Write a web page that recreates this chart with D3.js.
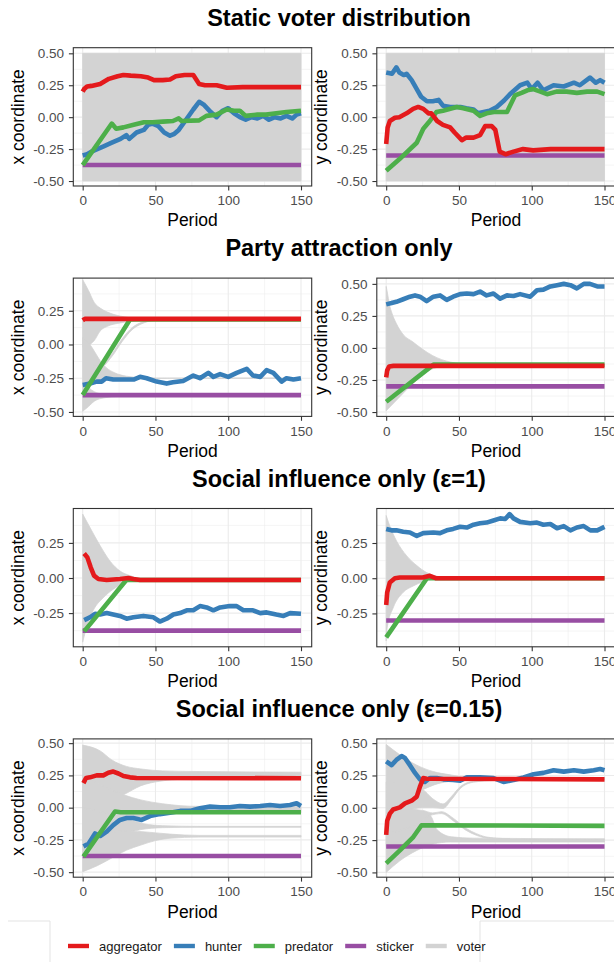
<!DOCTYPE html>
<html>
<head>
<meta charset="utf-8">
<script src="https://cdn.jsdelivr.net/npm/d3@7"></script>
<style>
body { margin: 0; background: #fff; }
svg { display: block; }
text { font-family: "Liberation Sans", Arial, sans-serif; }
</style>
</head>
<body>
<svg id="chart" width="614" height="962"></svg>
<script>
// ---- data: [period, value] ----
var agents = ["aggregator", "hunter", "predator", "sticker", "voter"];
var rowTitles = ["Static voter distribution", "Party attraction only",
                 "Social influence only (\u03b5=1)", "Social influence only (\u03b5=0.15)"];
var xTicks = [0, 50, 100, 150];
var yTicks = [-0.5, -0.25, 0, 0.25, 0.5];
var stickerX = -0.375;
var stickerY = -0.30;

// static voter distribution
var staticX_aggregator = [[0,0.20],[1,0.22],[3,0.24],[6,0.245],[12,0.26],[18,0.30],[24,0.32],[28,0.33],[33,0.325],[40,0.32],[45,0.31],[49,0.29],[55,0.29],[60,0.295],[64,0.32],[70,0.33],[76,0.33],[80,0.26],[84,0.25],[92,0.25],[99,0.23],[110,0.235],[130,0.235],[150,0.235]];
var staticX_hunter = [[0,-0.30],[3,-0.29],[6,-0.27],[10,-0.25],[14,-0.23],[20,-0.2],[26,-0.17],[30,-0.14],[32,-0.17],[37,-0.12],[42,-0.10],[45,-0.06],[48,-0.05],[52,-0.07],[56,-0.12],[60,-0.145],[63,-0.13],[66,-0.10],[71,-0.02],[76,0.06],[80,0.12],[83,0.10],[88,0.04],[92,0.0],[96,0.05],[100,0.07],[104,0.03],[108,0.0],[112,-0.02],[116,0.0],[120,-0.01],[124,0.01],[128,-0.02],[132,0.0],[136,-0.01],[140,0.01],[144,-0.01],[147,0.02],[150,0.03]];
var staticX_predator = [[0,-0.375],[20,-0.05],[23,-0.09],[28,-0.08],[35,-0.06],[42,-0.04],[48,-0.04],[55,-0.035],[62,-0.03],[66,-0.01],[68,-0.03],[80,-0.025],[85,0.01],[92,0.02],[99,0.06],[104,0.05],[108,0.05],[112,0.01],[120,0.02],[126,0.02],[133,0.03],[140,0.04],[150,0.05]];
var staticX_voter = [{upper:[[0,0.5],[150,0.5]], lower:[[0,-0.5],[150,-0.5]]}];

var staticY_aggregator = [[0,-0.21],[1,-0.08],[2.5,-0.03],[6,-0.005],[9,0.0],[14,0.03],[18.5,0.065],[22,0.08],[25.5,0.065],[29,0.03],[31,0.03],[35,-0.03],[39,-0.06],[44,-0.08],[47,-0.12],[52,-0.18],[55,-0.16],[60,-0.16],[64.5,-0.14],[68,-0.07],[72.5,-0.07],[75,-0.10],[78,-0.27],[82,-0.29],[87.5,-0.27],[94,-0.25],[101,-0.26],[113,-0.25],[124,-0.25],[136,-0.25],[150,-0.25]];
var staticY_hunter = [[0,0.35],[4,0.34],[7,0.39],[9,0.35],[12,0.33],[14,0.34],[17.5,0.29],[21,0.22],[24,0.16],[28,0.125],[32,0.125],[36,0.135],[39,0.09],[44,0.08],[51,0.08],[55,0.07],[60,0.06],[63,0.03],[67,0.04],[71,0.05],[76,0.08],[81,0.13],[85,0.18],[92,0.25],[97,0.27],[100,0.22],[104,0.27],[108,0.21],[115,0.25],[122,0.24],[129,0.27],[133,0.25],[140,0.31],[144,0.27],[147,0.29],[150,0.27]];
var staticY_predator = [[0,-0.42],[9,-0.33],[21,-0.2],[25.5,-0.09],[30,-0.03],[34.5,0.04],[39,0.05],[48.5,0.08],[53,0.07],[60,0.05],[64.5,0.01],[69,0.03],[74,0.04],[83,0.04],[88.5,0.17],[93,0.19],[97,0.21],[101,0.22],[106,0.20],[110.5,0.18],[117,0.20],[124,0.20],[131,0.19],[138,0.20],[145,0.20],[150,0.18]];
var staticY_voter = [{upper:[[0,0.5],[150,0.5]], lower:[[0,-0.5],[150,-0.5]]}];

// party attraction only
var partyX_aggregator = [[0,0.18],[1.5,0.19],[150,0.19]];
var partyX_hunter = [[0,-0.30],[5,-0.29],[9.6,-0.275],[13,-0.275],[16,-0.25],[21,-0.26],[28,-0.26],[35,-0.26],[39.4,-0.24],[44,-0.25],[50.8,-0.275],[57.7,-0.29],[62,-0.28],[69,-0.27],[76,-0.23],[80.6,-0.25],[86.3,-0.21],[89.8,-0.24],[94.4,-0.22],[100,-0.24],[105.8,-0.21],[112.7,-0.18],[117,-0.23],[122,-0.24],[126.4,-0.19],[131,-0.21],[136.7,-0.275],[140,-0.25],[144.8,-0.26],[150,-0.25]];
var partyX_predator = [[0,-0.375],[32.5,0.185],[150,0.185]];
var partyX_voter = [
  {upper:[[0,0.48],[4,0.40],[8,0.31],[12,0.27],[17,0.24],[26,0.21],[35,0.196],[50,0.19],[150,0.19]],
   lower:[[0,-0.02],[5,0.0],[8,0.03],[12,0.10],[17,0.135],[26,0.16],[35,0.175],[50,0.185],[150,0.185]]},
  {upper:[[0,0.05],[5,0.0],[8,-0.05],[12,-0.12],[16,-0.17],[22,-0.21],[30,-0.235],[40,-0.245],[60,-0.25],[150,-0.25]],
   lower:[[0,-0.32],[5,-0.3],[8,-0.28],[12,-0.27],[16,-0.265],[22,-0.26],[30,-0.258],[40,-0.255],[60,-0.25],[150,-0.25]]},
  {upper:[[0,-0.28],[4,-0.32],[8,-0.35],[15,-0.37],[25,-0.375],[150,-0.375]],
   lower:[[0,-0.495],[4,-0.46],[8,-0.42],[15,-0.395],[25,-0.385],[150,-0.38]]},
  {upper:[[7,-0.15],[12,-0.15],[20,-0.07],[27,0.04],[34,0.125],[42,0.17],[52,0.19],[65,0.194]],
   lower:[[7,-0.17],[12,-0.17],[20,-0.09],[27,0.02],[34,0.11],[42,0.16],[52,0.182],[65,0.188]]}
];

var partyY_aggregator = [[0,-0.23],[0.7,-0.175],[2,-0.145],[5,-0.14],[150,-0.14]];
var partyY_hunter = [[0,0.34],[3.7,0.35],[7,0.36],[11.7,0.38],[16.3,0.40],[19.8,0.41],[23.2,0.40],[27.8,0.365],[32.4,0.40],[37,0.41],[41.6,0.375],[46,0.40],[50.8,0.42],[55.4,0.425],[60,0.42],[64.5,0.44],[69,0.41],[73.7,0.425],[78.3,0.385],[83,0.41],[87.5,0.405],[92,0.42],[99,0.40],[103.6,0.45],[108,0.455],[112.8,0.48],[117.4,0.49],[122,0.50],[126.6,0.49],[131,0.465],[135.8,0.50],[140,0.50],[145,0.48],[150,0.48]];
var partyY_predator = [[0,-0.42],[32.5,-0.13],[150,-0.13]];
var partyY_voter = [
  {upper:[[0,0.48],[1,0.42],[2,0.35],[4,0.27],[7,0.19],[12,0.10],[18,0.05],[25,-0.01],[32,-0.06],[44,-0.11],[60,-0.13],[150,-0.13]],
   lower:[[0,-0.49],[9.4,-0.38],[21,-0.25],[32.4,-0.16],[46,-0.135],[60,-0.13],[150,-0.13]]}
];

// social influence only, epsilon = 1
var social1X_aggregator = [[1,0.175],[3.2,0.147],[5.5,0.076],[7.8,0.017],[10.8,-0.007],[16.5,-0.014],[25.6,-0.007],[31.4,0.0],[34.8,-0.007],[39.4,-0.014],[150,-0.014]];
var social1X_hunter = [[1,-0.30],[5,-0.28],[8.5,-0.255],[12,-0.26],[16.5,-0.25],[21,-0.26],[25.6,-0.27],[30.2,-0.29],[34.8,-0.28],[41.7,-0.27],[48.6,-0.28],[53,-0.31],[57.7,-0.29],[62.3,-0.26],[66.9,-0.25],[71.5,-0.23],[76,-0.23],[80.6,-0.20],[85.2,-0.21],[89.8,-0.23],[94.4,-0.21],[101,-0.20],[105.8,-0.20],[110.4,-0.23],[117,-0.23],[122,-0.25],[126.4,-0.245],[133,-0.26],[138,-0.27],[142.5,-0.25],[150,-0.255]];
var social1X_predator = [[1,-0.38],[30,-0.014],[150,-0.014]];
var social1X_voter = [
  {upper:[[0,0.455],[5,0.36],[12,0.23],[18.8,0.12],[25.6,0.05],[32.5,0.017],[39,0.0],[150,0.0]],
   lower:[[0,-0.457],[2.7,-0.35],[7.3,-0.23],[14.2,-0.14],[21,-0.08],[28,-0.04],[35,-0.014],[41.7,-0.007],[150,-0.007]]}
];

var social1Y_aggregator = [[0,-0.19],[0.7,-0.10],[2.5,-0.03],[6,0.0],[9.4,0.005],[25,0.005],[30,0.017],[34,0.0],[150,0.0]];
var social1Y_hunter = [[0,0.35],[3.7,0.34],[7,0.34],[11.7,0.33],[16.3,0.325],[21,0.30],[25.5,0.32],[32.4,0.325],[37,0.32],[41.6,0.34],[46,0.35],[50.8,0.365],[55.4,0.36],[60,0.38],[64.5,0.39],[69,0.395],[73.7,0.41],[78.3,0.425],[81.8,0.42],[84.8,0.455],[87.5,0.425],[92,0.40],[99,0.39],[103.6,0.395],[108,0.38],[112.8,0.385],[117.4,0.355],[122,0.37],[126.6,0.34],[131,0.36],[135.7,0.37],[140.3,0.34],[145,0.34],[150,0.365]];
var social1Y_predator = [[0,-0.42],[28,0.0],[150,0.0]];
var social1Y_voter = [
  {upper:[[0,0.445],[2.5,0.37],[7.1,0.265],[14,0.16],[21,0.09],[27.8,0.04],[37,0.01],[46,0.003],[150,0.003]],
   lower:[[0,-0.445],[0.7,-0.35],[4.8,-0.21],[11.7,-0.10],[18.6,-0.055],[25.5,-0.024],[32.4,-0.007],[41.6,-0.003],[150,-0.003]]}
];

// social influence only, epsilon = 0.15
var social015X_aggregator = [[0.5,0.19],[2.3,0.23],[5,0.235],[9.6,0.25],[14.2,0.25],[17.6,0.27],[21,0.28],[24.5,0.265],[28,0.245],[32.5,0.235],[37,0.23],[150,0.228]];
var social015X_hunter = [[0.5,-0.30],[4,-0.28],[8.5,-0.20],[12,-0.22],[16.5,-0.185],[21,-0.135],[25.6,-0.095],[30.2,-0.08],[34.8,-0.08],[40.5,-0.095],[46.3,-0.065],[53,-0.05],[60,-0.04],[67,-0.025],[73.7,-0.025],[80.6,-0.005],[87.5,0.008],[94.4,0.003],[101,0.003],[108,0.013],[115,0.008],[122,0.013],[128.7,0.02],[135.6,0.013],[142.5,0.02],[147,0.034],[150,0.013]];
var social015X_predator = [[0.5,-0.38],[22.2,-0.03],[26,-0.036],[150,-0.036]];
var social015X_voter = [
  {upper:[[0,0.485],[12,0.44],[20,0.37],[30,0.32],[40,0.30],[55,0.285],[80,0.28],[150,0.275]],
   lower:[[0,0.0],[28,0.10],[40,0.17],[53,0.205],[70,0.22],[150,0.225]]},
  {upper:[[0,0.25],[28,0.10],[40,0.06],[55,0.03],[80,0.01],[150,0.01]],
   lower:[[0,-0.2],[28,-0.09],[40,-0.07],[55,-0.05],[80,-0.04],[150,-0.04]]},
  {upper:[[0,0.0],[32,-0.09],[42,-0.125],[55,-0.14],[80,-0.145],[150,-0.145]],
   lower:[[0,-0.3],[30,-0.2],[40,-0.17],[55,-0.155],[80,-0.152],[150,-0.152]]},
  {upper:[[0,-0.25],[30,-0.18],[45,-0.19],[60,-0.205],[80,-0.215],[150,-0.215]],
   lower:[[0,-0.496],[10,-0.45],[20,-0.39],[30,-0.33],[40,-0.29],[50,-0.255],[60,-0.237],[80,-0.228],[150,-0.228]]}
];

var social015Y_aggregator = [[0,-0.21],[0.7,-0.10],[2.5,-0.045],[4.8,-0.013],[9.4,0.003],[12.9,0.034],[17.5,0.055],[21,0.086],[23.2,0.164],[25.5,0.23],[27.8,0.225],[150,0.22]];
var social015Y_hunter = [[0,0.36],[3.7,0.33],[7,0.37],[10.6,0.40],[12.9,0.385],[16.3,0.33],[19.8,0.27],[23.2,0.22],[26.6,0.20],[30,0.23],[34.7,0.23],[39.3,0.22],[46,0.215],[50.8,0.21],[55.4,0.235],[64.5,0.235],[73.7,0.23],[80.6,0.20],[87.5,0.215],[94.4,0.235],[101.3,0.26],[108,0.27],[115,0.29],[122,0.28],[129,0.29],[135.7,0.28],[142.6,0.29],[147,0.30],[150,0.29]];
var social015Y_predator = [[0,-0.43],[9.4,-0.33],[18.6,-0.226],[24.3,-0.135],[150,-0.14]];
var social015Y_voter = [
  {upper:[[0,0.49],[9.4,0.41],[21,0.33],[32.4,0.28],[44,0.255],[55,0.236],[80,0.23],[150,0.23]],
   lower:[[0,0.0],[25,0.14],[35,0.185],[45,0.205],[60,0.212],[150,0.215]]},
  {upper:[[0,0.2],[25,0.14],[32,0.07],[39,0.03],[45,0.09],[51,0.165],[60,0.205],[75,0.215]],
   lower:[[0,-0.1],[25,0.0],[32,0.0],[39,-0.005],[45,0.065],[51,0.15],[60,0.198],[75,0.212]]},
  {upper:[[0,0.0],[25,-0.02],[32,-0.04],[38,-0.03],[46,-0.08],[55,-0.16],[62,-0.2],[70,-0.228],[85,-0.24]],
   lower:[[0,-0.3],[25,-0.1],[30,-0.06],[38,-0.045],[46,-0.1],[55,-0.175],[62,-0.213],[70,-0.235],[85,-0.24]]},
  {upper:[[0,-0.2],[25,-0.1],[30,-0.06],[35,-0.17],[45,-0.225],[60,-0.235],[150,-0.24]],
   lower:[[0,-0.5],[9.4,-0.41],[21,-0.33],[32.4,-0.28],[44,-0.265],[150,-0.265]]}
];

// ---- layout ----
var colors = {aggregator: "#E41A1C", hunter: "#377EB8", predator: "#4DAF4A", sticker: "#984EA3", voter: "#D3D3D3"};
var panelW = 238.4, panelH = 138.3;
var colLeft = [73.3, 376.8];
function rowTop(r) { return 47.7 + 230.4 * r; }

var panels = [
  {row:0, col:0, yLabel:"x coordinate", yDom:[-0.539,0.544], aggregator:staticX_aggregator, hunter:staticX_hunter, predator:staticX_predator, sticker:stickerX, voter:staticX_voter},
  {row:0, col:1, yLabel:"y coordinate", yDom:[-0.539,0.544], aggregator:staticY_aggregator, hunter:staticY_hunter, predator:staticY_predator, sticker:stickerY, voter:staticY_voter},
  {row:1, col:0, yLabel:"x coordinate", yDom:[-0.533,0.492], aggregator:partyX_aggregator, hunter:partyX_hunter, predator:partyX_predator, sticker:stickerX, voter:partyX_voter},
  {row:1, col:1, yLabel:"y coordinate", yDom:[-0.534,0.545], aggregator:partyY_aggregator, hunter:partyY_hunter, predator:partyY_predator, sticker:stickerY, voter:partyY_voter},
  {row:2, col:0, yLabel:"x coordinate", yDom:[-0.49,0.495], aggregator:social1X_aggregator, hunter:social1X_hunter, predator:social1X_predator, sticker:stickerX, voter:social1X_voter},
  {row:2, col:1, yLabel:"y coordinate", yDom:[-0.487,0.495], aggregator:social1Y_aggregator, hunter:social1Y_hunter, predator:social1Y_predator, sticker:stickerY, voter:social1Y_voter},
  {row:3, col:0, yLabel:"x coordinate", yDom:[-0.539,0.533], aggregator:social015X_aggregator, hunter:social015X_hunter, predator:social015X_predator, sticker:stickerX, voter:social015X_voter},
  {row:3, col:1, yLabel:"y coordinate", yDom:[-0.537,0.533], aggregator:social015Y_aggregator, hunter:social015Y_hunter, predator:social015Y_predator, sticker:stickerY, voter:social015Y_voter}
];

var svg = d3.select("#chart");
svg.append("rect").attr("width", 614).attr("height", 962).attr("fill", "#fff");

// row titles
rowTitles.forEach(function(t, r) {
  svg.append("text")
     .attr("x", 339).attr("y", 26 + 230.4 * r)
     .attr("text-anchor", "middle")
     .style("font-size", "23.5px").style("font-weight", "bold")
     .text(t);
});

panels.forEach(function(pn, i) {
  var x0 = colLeft[pn.col], y0 = rowTop(pn.row);
  var x = d3.scaleLinear().domain([-6.45, 157.35]).range([x0, x0 + panelW]);
  var y = d3.scaleLinear().domain(pn.yDom).range([y0 + panelH, y0]);
  var g = svg.append("g");

  g.append("clipPath").attr("id", "clip" + i)
   .append("rect").attr("x", x0).attr("y", y0).attr("width", panelW).attr("height", panelH);

  // grid
  var yMaj = yTicks.filter(function(v) { return v >= pn.yDom[0] && v <= pn.yDom[1]; });
  var yMin = yTicks.slice(1).map(function(v) { return v - 0.125; })
                   .filter(function(v) { return v >= pn.yDom[0] && v <= pn.yDom[1]; });
  var xMin = [25, 75, 125];
  var grid = g.append("g").attr("stroke", "#EBEBEB");
  grid.selectAll(".ymin").data(yMin).enter().append("line")
      .attr("x1", x0).attr("x2", x0 + panelW)
      .attr("y1", function(d) { return y(d); }).attr("y2", function(d) { return y(d); })
      .attr("stroke-width", 0.55);
  grid.selectAll(".xmin").data(xMin).enter().append("line")
      .attr("y1", y0).attr("y2", y0 + panelH)
      .attr("x1", function(d) { return x(d); }).attr("x2", function(d) { return x(d); })
      .attr("stroke-width", 0.55);
  grid.selectAll(".ymaj").data(yMaj).enter().append("line")
      .attr("x1", x0).attr("x2", x0 + panelW)
      .attr("y1", function(d) { return y(d); }).attr("y2", function(d) { return y(d); })
      .attr("stroke-width", 1.1);
  grid.selectAll(".xmaj").data(xTicks).enter().append("line")
      .attr("y1", y0).attr("y2", y0 + panelH)
      .attr("x1", function(d) { return x(d); }).attr("x2", function(d) { return x(d); })
      .attr("stroke-width", 1.1);

  var plot = g.append("g").attr("clip-path", "url(#clip" + i + ")");

  // voters as bands
  var edge = d3.line().x(function(d) { return x(d[0]); }).y(function(d) { return y(d[1]); })
               .curve(d3.curveMonotoneX);
  plot.selectAll(".band").data(pn.voter).enter().append("path")
      .attr("d", function(b) {
        var up = edge(b.upper);
        var lo = edge(b.lower.slice().reverse());
        return up + "L" + lo.slice(1) + "Z";
      })
      .attr("fill", colors.voter).attr("stroke", colors.voter).attr("stroke-width", 0.8);

  var line = d3.line().x(function(d) { return x(d[0]); }).y(function(d) { return y(d[1]); });
  var series = [
    {k: "sticker", pts: [[0, pn.sticker], [150, pn.sticker]]},
    {k: "hunter", pts: pn.hunter},
    {k: "predator", pts: pn.predator},
    {k: "aggregator", pts: pn.aggregator}
  ];
  plot.selectAll(".agent").data(series).enter().append("path")
      .attr("d", function(s) { return line(s.pts); })
      .attr("fill", "none")
      .attr("stroke", function(s) { return colors[s.k]; })
      .attr("stroke-width", 4.6)
      .attr("stroke-linejoin", "round");

  // border
  g.append("rect").attr("x", x0).attr("y", y0).attr("width", panelW).attr("height", panelH)
   .attr("fill", "none").attr("stroke", "#333333").attr("stroke-width", 1.1);

  // axes
  var ya = g.append("g").attr("transform", "translate(" + x0 + ",0)")
            .call(d3.axisLeft(y).tickValues(yMaj).tickFormat(function(v) { return v.toFixed(2); })
                   .tickSize(4.4).tickPadding(5));
  var xa = g.append("g").attr("transform", "translate(0," + (y0 + panelH) + ")")
            .call(d3.axisBottom(x).tickValues(xTicks).tickFormat(d3.format("d"))
                   .tickSize(4.4).tickPadding(5.2));
  [ya, xa].forEach(function(a) {
    a.select(".domain").remove();
    a.selectAll(".tick line").attr("stroke", "#333333").attr("stroke-width", 1.1);
    a.selectAll(".tick text").attr("fill", "#4D4D4D")
     .style("font-size", "13.5px").style("font-family", "'Liberation Sans', Arial, sans-serif");
  });

  g.append("text")
   .attr("x", x0 + panelW / 2).attr("y", y0 + panelH + 40.3)
   .attr("text-anchor", "middle").style("font-size", "17.5px")
   .text("Period");
  g.append("text")
   .attr("transform", "translate(" + (x0 - 49.5) + "," + (y0 + panelH / 2) + ") rotate(-90)")
   .attr("text-anchor", "middle").style("font-size", "17.5px")
   .text(pn.yLabel);
});

// faint frame lines around the legend area
svg.append("path").attr("d", "M8,921H50V962M480,962V921H614")
   .attr("fill", "none").attr("stroke", "#E3E3E3").attr("stroke-width", 1);

// legend
var lx = 68;
agents.forEach(function(k) {
  svg.append("line").attr("x1", lx).attr("x2", lx + 21).attr("y1", 946).attr("y2", 946)
     .attr("stroke", colors[k]).attr("stroke-width", 4.4);
  var t = svg.append("text").attr("x", lx + 31).attr("y", 950.5)
     .style("font-size", "13px").attr("fill", "#1A1A1A").text(k);
  lx += 31 + t.node().getComputedTextLength() + 12;
});
</script>
</body>
</html>
